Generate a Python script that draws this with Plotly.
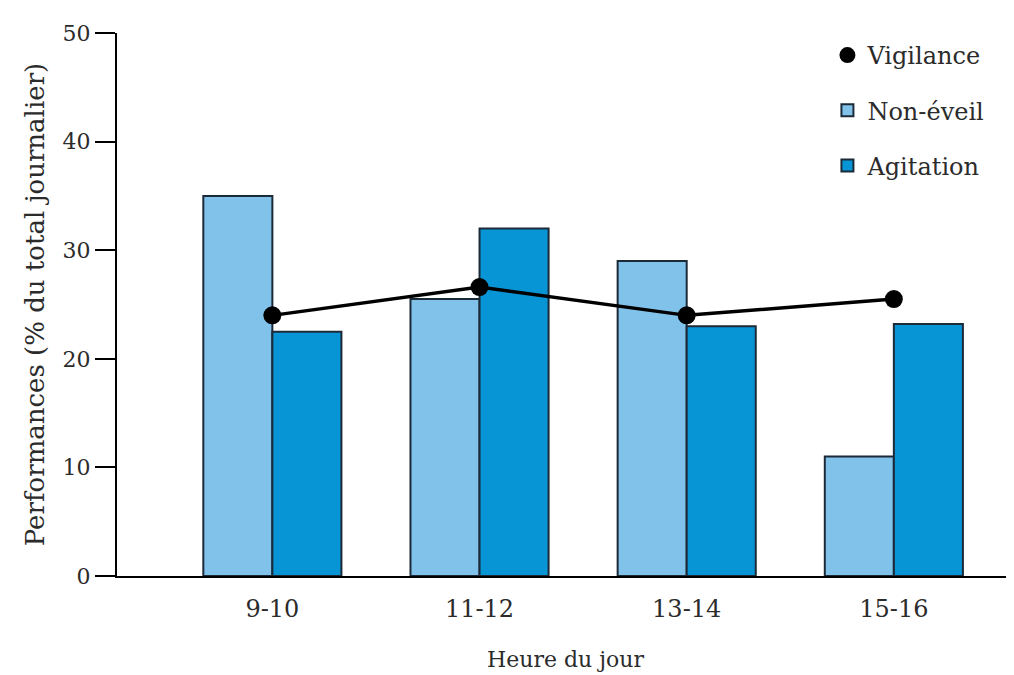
import plotly.graph_objects as go

categories = ["9-10", "11-12", "13-14", "15-16"]
non_eveil = [35, 25.5, 29, 11]
agitation = [22.5, 32, 23, 23.2]
vigilance = [24, 26.6, 24, 25.5]
y_ticks = [0, 10, 20, 30, 40, 50]

FONT = "DejaVu Serif"
TXT = "#2b2b2b"
EDGE = "#1c2a38"

fig = go.Figure()
fig.add_trace(go.Bar(
    x=categories, y=non_eveil, name="Non-éveil",
    marker=dict(color="#80c2ea", line=dict(color=EDGE, width=2)),
    legendgroup="b", legendrank=2,
))
fig.add_trace(go.Bar(
    x=categories, y=agitation, name="Agitation",
    marker=dict(color="#0895d6", line=dict(color=EDGE, width=2)),
    legendgroup="c", legendrank=3,
))
fig.add_trace(go.Scatter(
    x=categories, y=vigilance, name="Vigilance", mode="lines",
    line=dict(color="black", width=3.5),
    showlegend=False, legendgroup="a",
))
fig.add_trace(go.Scatter(
    x=categories, y=vigilance, name="Vigilance", mode="markers",
    marker=dict(color="black", size=18),
    legendgroup="a", legendrank=1,
))

fig.update_layout(
    width=1014, height=675,
    margin=dict(l=109, r=8, t=25, b=107),
    paper_bgcolor="white", plot_bgcolor="white",
    barmode="group", bargap=1/3, bargroupgap=0,
    font=dict(family=FONT, size=21, color=TXT),
    showlegend=True,
    legend=dict(
        x=0.792, y=1.0, xanchor="left", yanchor="top",
        traceorder="grouped", tracegroupgap=21,
        font=dict(family=FONT, size=24, color=TXT),
        bgcolor="rgba(0,0,0,0)", itemwidth=30,
    ),
    xaxis=dict(
        type="category", categoryorder="array", categoryarray=categories,
        range=[-0.75, 3.58],
        showline=True, linecolor="black", linewidth=2,
        ticks="", showgrid=False, zeroline=False,
        ticklabelstandoff=10,
        tickfont=dict(family=FONT, size=24, color=TXT),
        title=dict(text="Heure du jour", font=dict(family=FONT, size=22, color=TXT), standoff=30),
    ),
    yaxis=dict(
        range=[0, 50], tickvals=y_ticks,
        showline=True, linecolor="black", linewidth=2,
        ticks="outside", ticklen=20, tickwidth=2, tickcolor="black",
        showgrid=False, zeroline=False,
        tickfont=dict(family=FONT, size=22, color=TXT),
        title=dict(text="Performances (% du total journalier)", font=dict(family=FONT, size=26, color=TXT), standoff=10),
    ),
)

fig.write_html("out.html")
